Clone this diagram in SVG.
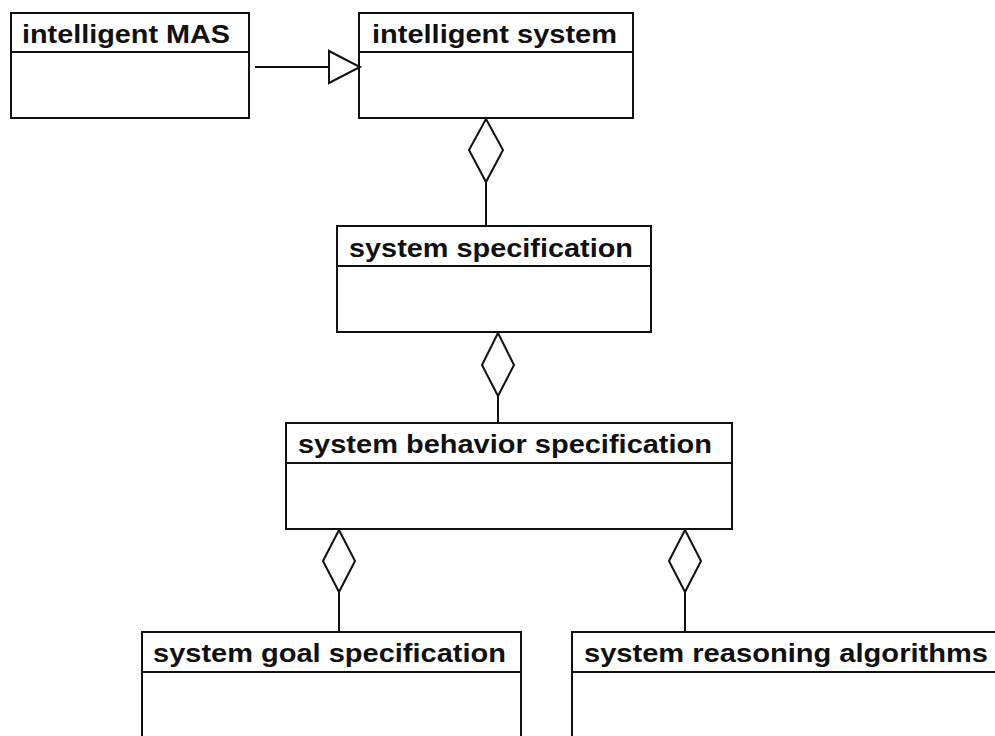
<svg xmlns="http://www.w3.org/2000/svg" width="995" height="736" viewBox="0 0 995 736">
<style>
.box{fill:#fff;stroke:#111;stroke-width:2}
.div{stroke:#111;stroke-width:2}
.t{font-family:"Liberation Sans",Arial,sans-serif;font-weight:bold;font-size:25px;fill:#111}
.ln{stroke:#111;stroke-width:2;fill:none}
.hd{fill:#fff;stroke:#111;stroke-width:2}
</style>
<rect width="995" height="736" fill="#fff"/>
<g id="intelligent-mas">
<rect class="box" x="11" y="13" width="238" height="105"/>
<line class="div" x1="11" y1="52" x2="249" y2="52"/>
<text class="t" x="22" y="43" textLength="208" lengthAdjust="spacingAndGlyphs">intelligent MAS</text>
</g>
<g id="intelligent-system">
<rect class="box" x="359" y="13" width="274" height="105"/>
<line class="div" x1="359" y1="52" x2="633" y2="52"/>
<text class="t" x="372" y="43" textLength="245" lengthAdjust="spacingAndGlyphs">intelligent system</text>
</g>
<g id="system-specification">
<rect class="box" x="337" y="226" width="314" height="106"/>
<line class="div" x1="337" y1="266" x2="651" y2="266"/>
<text class="t" x="349" y="257" textLength="284" lengthAdjust="spacingAndGlyphs">system specification</text>
</g>
<g id="system-behavior-specification">
<rect class="box" x="286" y="423" width="446" height="106"/>
<line class="div" x1="286" y1="463" x2="732" y2="463"/>
<text class="t" x="298" y="453" textLength="414" lengthAdjust="spacingAndGlyphs">system behavior specification</text>
</g>
<g id="system-goal-specification">
<rect class="box" x="142" y="632" width="379" height="120"/>
<line class="div" x1="142" y1="672" x2="521" y2="672"/>
<text class="t" x="153" y="662" textLength="353" lengthAdjust="spacingAndGlyphs">system goal specification</text>
</g>
<g id="system-reasoning-algorithms">
<rect class="box" x="572" y="632" width="440" height="120"/>
<line class="div" x1="572" y1="672" x2="1012" y2="672"/>
<text class="t" x="584" y="662" textLength="404" lengthAdjust="spacingAndGlyphs">system reasoning algorithms</text>
</g>
<g id="connectors">
<line class="ln" x1="255" y1="67" x2="329" y2="67"/>
<polygon class="hd" points="329,51 360,67 329,83"/>
<line class="ln" x1="486" y1="182" x2="486" y2="226"/>
<polygon class="hd" points="486,119 503,150 486,182 469,150"/>
<line class="ln" x1="498" y1="395" x2="498" y2="423"/>
<polygon class="hd" points="498,333 514,365 498,396 482,365"/>
<line class="ln" x1="339" y1="592" x2="339" y2="632"/>
<polygon class="hd" points="339,530 355,561 339,592 323,561"/>
<line class="ln" x1="685" y1="592" x2="685" y2="632"/>
<polygon class="hd" points="685,530 701,561 685,592 669,561"/>
</g>
</svg>
